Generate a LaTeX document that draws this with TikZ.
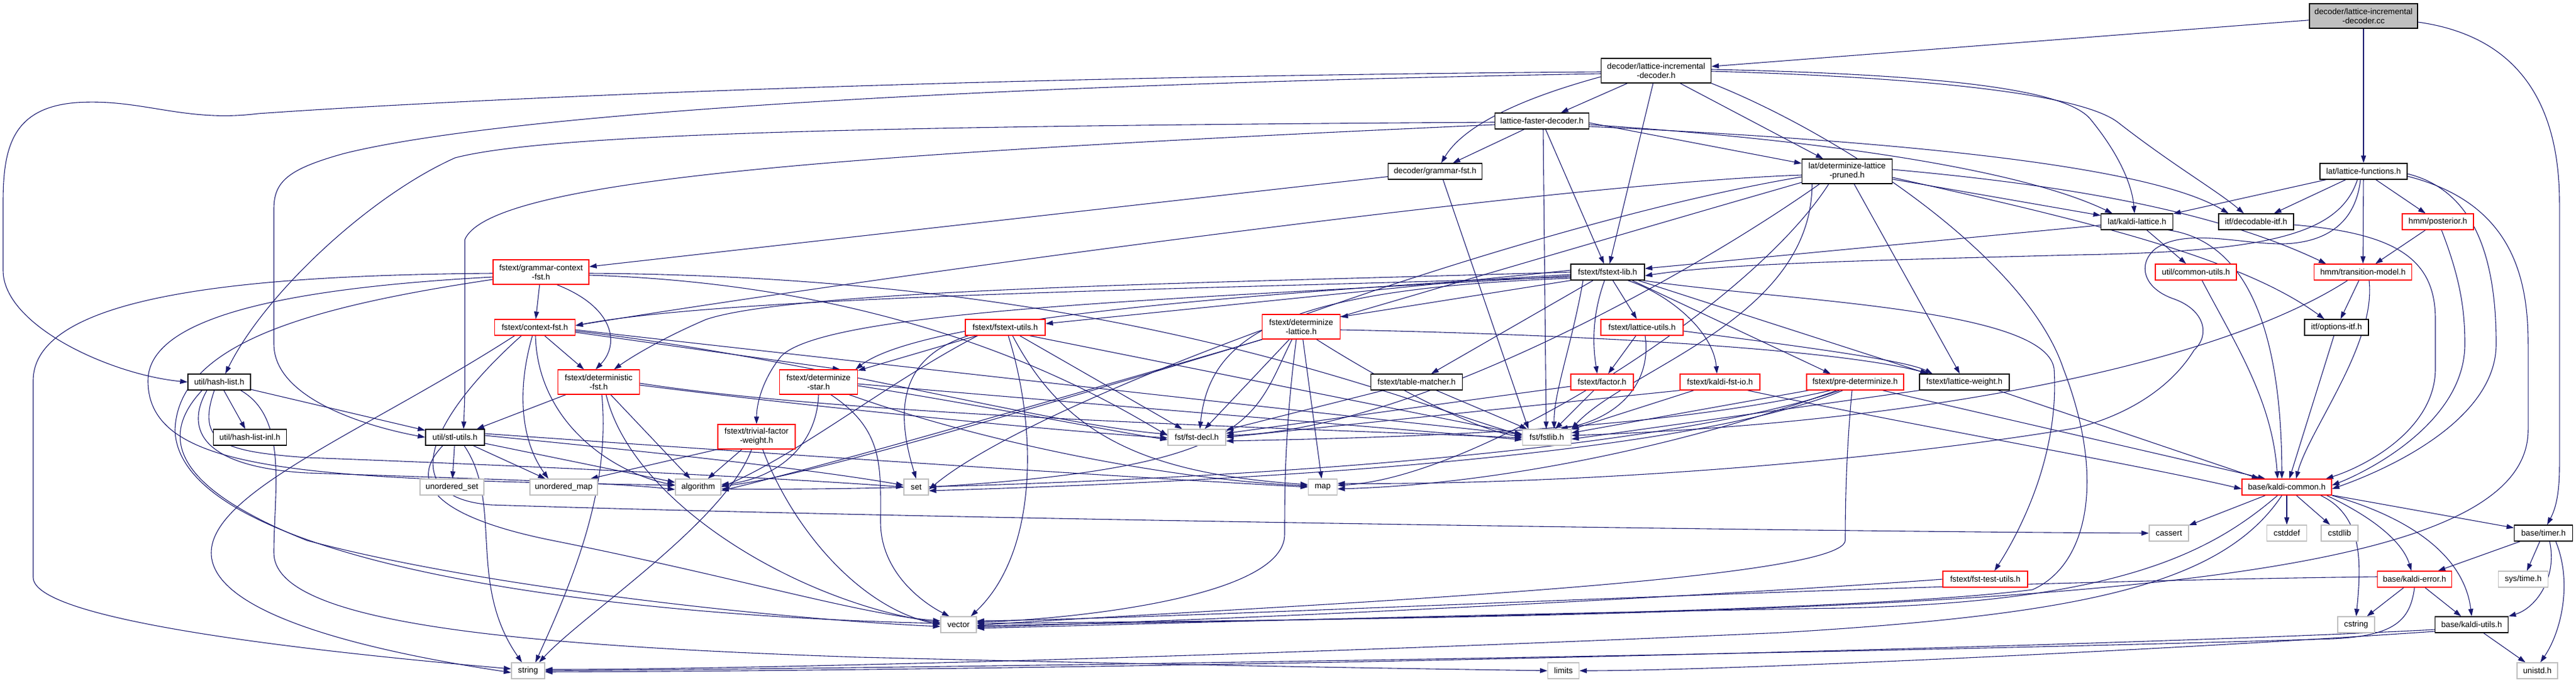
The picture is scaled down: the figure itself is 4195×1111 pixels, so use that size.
\documentclass[tikz,border=0pt]{standalone}
\usepackage{fontspec}
\setmainfont{Liberation Sans}
\usetikzlibrary{arrows.meta}
\pgfdeclarelayer{bg}
\pgfsetlayers{bg,main}
\definecolor{edgec}{RGB}{25,25,112}
\definecolor{grayb}{RGB}{191,191,191}
\tikzset{
 box/.style={draw=black,line width=1.3pt,fill=white,inner sep=0pt,align=center,font=\fontsize{13.3}{15}\selectfont},
 redbox/.style={box,draw=red},
 sysbox/.style={box,draw=grayb},
 rootbox/.style={box,fill=grayb},
 e/.style={draw=edgec,line width=1.1pt,-{Triangle[length=12pt,width=8pt]}},
}
\newcommand\nd[7]{\node[#1,minimum width=#5pt,minimum height=#6pt] (#2) at (#3,#4) {#7};}
\begin{document}
\begin{tikzpicture}[x=1pt,y=-1pt]
\useasboundingbox (0,0) rectangle (4195,1111);
\nd{rootbox}{cc}{3849}{26}{176}{40}{decoder/lattice-incremental\\-decoder.cc}
\nd{box}{lidh}{2697}{115}{179}{40}{decoder/lattice-incremental\\-decoder.h}
\nd{box}{lfd}{2511}{197}{153}{26}{lattice-faster-decoder.h}
\nd{box}{gfst}{2337}{279}{153}{26}{decoder/grammar-fst.h}
\nd{box}{dlp}{3008}{279}{147}{40}{lat/determinize-lattice\\-pruned.h}
\nd{box}{lfun}{3849}{279}{142}{26}{lat/lattice-functions.h}
\nd{box}{klat}{3480}{361}{117}{26}{lat/kaldi-lattice.h}
\nd{box}{ditf}{3674}{361}{122}{26}{itf/decodable-itf.h}
\nd{redbox}{post}{3970}{361}{116}{26}{hmm/posterior.h}
\nd{redbox}{gcf}{881}{443}{156}{40}{fstext/grammar-context\\-fst.h}
\nd{box}{flib}{2618}{443}{120}{26}{fstext/fstext-lib.h}
\nd{redbox}{cu}{3576}{443}{132}{26}{util/common-utils.h}
\nd{redbox}{tm}{3848}{443}{159}{26}{hmm/transition-model.h}
\nd{redbox}{cfst}{871}{533}{131}{26}{fstext/context-fst.h}
\nd{redbox}{futl}{1637}{533}{130}{26}{fstext/fstext-utils.h}
\nd{redbox}{dlat}{2119}{532}{127}{40}{fstext/determinize\\-lattice.h}
\nd{redbox}{lutl}{2674}{533}{134}{26}{fstext/lattice-utils.h}
\nd{box}{opt}{3805}{533}{104}{26}{itf/options-itf.h}
\nd{box}{hl}{357}{622}{102}{26}{util/hash-list.h}
\nd{redbox}{dfst}{975}{622}{133}{40}{fstext/deterministic\\-fst.h}
\nd{redbox}{dstar}{1333}{622}{127}{40}{fstext/determinize\\-star.h}
\nd{box}{tmat}{2307}{622}{149}{26}{fstext/table-matcher.h}
\nd{redbox}{fac}{2609}{622}{102}{26}{fstext/factor.h}
\nd{redbox}{kfio}{2801}{622}{130}{26}{fstext/kaldi-fst-io.h}
\nd{redbox}{pdet}{3021}{622}{158}{26}{fstext/pre-determinize.h}
\nd{box}{lw}{3199}{622}{146}{26}{fstext/lattice-weight.h}
\nd{box}{hli}{407}{712}{119}{26}{util/hash-list-inl.h}
\nd{box}{stl}{741}{712}{96}{26}{util/stl-utils.h}
\nd{redbox}{tfw}{1232}{711}{126}{40}{fstext/trivial-factor\\-weight.h}
\nd{sysbox}{decl}{1949}{712}{94}{26}{fst/fst-decl.h}
\nd{sysbox}{fstlib}{2519}{712}{79}{26}{fst/fstlib.h}
\nd{sysbox}{uset}{736}{793}{104}{26}{unordered\_set}
\nd{sysbox}{umap}{918}{793}{110}{26}{unordered\_map}
\nd{sysbox}{algo}{1137}{793}{74}{26}{algorithm}
\nd{sysbox}{set}{1492}{793}{40}{26}{set}
\nd{sysbox}{map}{2154}{793}{47}{26}{map}
\nd{redbox}{kc}{3724}{793}{146}{26}{base/kaldi-common.h}
\nd{sysbox}{cassert}{3532}{868}{64}{26}{cassert}
\nd{sysbox}{cstddef}{3724}{868}{65}{26}{cstddef}
\nd{sysbox}{cstdlib}{3810}{868}{60}{26}{cstdlib}
\nd{box}{timer}{4142}{868}{95}{26}{base/timer.h}
\nd{redbox}{ftu}{3233}{943}{138}{26}{fstext/fst-test-utils.h}
\nd{redbox}{kerr}{3932}{943}{121}{26}{base/kaldi-error.h}
\nd{sysbox}{systime}{4109}{943}{81}{26}{sys/time.h}
\nd{sysbox}{vector}{1561}{1017}{58}{26}{vector}
\nd{sysbox}{cstring}{3837}{1017}{60}{26}{cstring}
\nd{box}{kutil}{4025}{1017}{119}{26}{base/kaldi-utils.h}
\nd{sysbox}{string}{860}{1092}{54}{26}{string}
\nd{sysbox}{limits}{2546}{1092}{51}{26}{limits}
\nd{sysbox}{unistd}{4132}{1092}{66}{26}{unistd.h}
\begin{pgfonlayer}{bg}
% cc
\draw[e] (cc) -- (lidh);
\draw[e] (cc) -- (lfun);
\draw[e] ([yshift=-10]cc.east) .. controls (4110,60) and (4168,180) .. (4168,330) -- (4168,760) .. controls (4168,815) and (4158,835) .. ([xshift=6]timer.north);
% lidh
\draw[e] (lidh) -- (lfd);
\draw[e] (lidh) -- (flib);
\draw[e] (lidh) -- (dlp);
\draw[e] ([yshift=2]lidh.east) .. controls (3200,122) and (3370,150) .. (3405,195) .. controls (3450,250) and (3472,300) .. ([xshift=-4]klat.north);
\draw[e] ([yshift=-1]lidh.east) .. controls (3200,128) and (3400,160) .. (3450,200) .. controls (3540,270) and (3610,310) .. ([xshift=-20]ditf.north);
\draw[e] ([yshift=-2]lidh.west) .. controls (1500,125) and (700,165) .. (420,185) .. controls (300,200) and (230,160) .. (125,167) .. controls (20,175) and (5,240) .. (5,330) -- (5,440) .. controls (5,530) and (180,610) .. (hl.west);
\draw[e] ([yshift=-5]lidh.west) .. controls (1500,140) and (800,190) .. (560,250) .. controls (470,275) and (446,295) .. (446,340) -- (446,560) .. controls (446,650) and (600,695) .. (stl.west);
\draw[e] ([yshift=-10]lidh.west) .. controls (2460,165) and (2380,210) .. ([xshift=10]gfst.north);
\draw[e] (lidh.south east) .. controls (3000,220) and (3300,420) .. (3360,600) .. controls (3430,780) and (3400,920) .. (3310,960) .. controls (3000,1000) and (2000,1010) .. ([yshift=-2]vector.east);
% lfd
\draw[e] (lfd) -- (gfst);
\draw[e] (lfd) -- (flib);
\draw[e] ([xshift=2]lfd.south) -- ([xshift=-1]fstlib.north);
\draw[e] ([yshift=-2]lfd.west) .. controls (1500,205) and (900,215) .. (741,257) .. controls (600,320) and (430,480) .. ([xshift=10]hl.north);
\draw[e] ([yshift=-6]lfd.west) .. controls (1400,250) and (800,290) .. (757,390) -- (757,640) -- ([xshift=14]stl.north);
\draw[e] ([yshift=-3]lfd.east) -- ([yshift=13]dlp.west);
\draw[e] ([yshift=-6]lfd.east) .. controls (3000,230) and (3300,280) .. ([xshift=-40]klat.north);
\draw[e] ([yshift=-9]lfd.east) .. controls (3100,230) and (3500,270) .. ([xshift=-45]ditf.north);
% gfst
\draw[e] (gfst) -- (gcf);
\draw[e] ([xshift=13]gfst.south) -- ([xshift=-30]fstlib.north);
% dlp
\draw[e] (dlp) -- (klat);
\draw[e] (dlp) -- (lw);
\draw[e] ([yshift=3]dlp.east) .. controls (3350,300) and (3600,340) .. ([xshift=-60]tm.north);
\draw[e] ([yshift=-10]dlp.east) .. controls (3400,360) and (3650,420) .. ([xshift=-20]opt.north);
\draw[e] ([xshift=-57]dlp.south) .. controls (2950,520) and (2650,600) .. (fstlib.north east);
\draw[e] ([yshift=-6]dlp.west) .. controls (2500,300) and (1300,470) .. ([yshift=3]cfst.east);
\draw[e] ([yshift=-9]dlp.west) .. controls (2500,360) and (1700,640) .. ([yshift=-4]set.east);
\draw[e] ([yshift=-18]dlp.west) .. controls (2400,450) and (1500,720) .. ([yshift=-6]algo.east);
\draw[e] ([xshift=-30]dlp.south) .. controls (2850,500) and (2400,780) .. ([yshift=3]map.east);
\draw[e] ([xshift=-45]dlp.south) .. controls (2750,450) and (2300,700) .. ([yshift=3]decl.east);
% lfun
\draw[e] (lfun) -- (klat);
\draw[e] (lfun) -- (ditf);
\draw[e] (lfun) -- (post);
\draw[e] (lfun) -- (tm);
\draw[e] ([xshift=-10]lfun.south) .. controls (3810,380) and (3700,410) .. (3380,415) .. controls (3000,425) and (2800,430) .. ([yshift=-6]flib.east);
\draw[e] ([xshift=-5]lfun.south) .. controls (3835,370) and (3780,395) .. (3719,397) .. controls (3650,398) and (3560,370) .. (3510,405) .. controls (3480,430) and (3490,470) .. (3541,487) .. controls (3590,505) and (3600,545) .. (3573,570) .. controls (3530,640) and (3450,680) .. (3380,697) .. controls (3000,760) and (2500,790) .. ([yshift=6]map.east);
\draw[e] ([yshift=-4]lfun.east) .. controls (4030,310) and (4065,420) .. (4065,560) .. controls (4065,680) and (3900,760) .. ([yshift=-3]kc.east);
\draw[e] ([yshift=-8]lfun.east) .. controls (4090,330) and (4117,450) .. (4117,560) -- (4117,700) .. controls (4117,960) and (3300,1000) .. ([yshift=2]vector.east);
% klat
\draw[e] (klat) -- (flib);
\draw[e] (klat) -- (cu);
\draw[e] ([xshift=-8]klat.south east) .. controls (3640,390) and (3715,500) .. ([xshift=-8]kc.north);
% ditf
\draw[e] ([yshift=-5]ditf.east) .. controls (3900,380) and (3966,420) .. (3966,520) -- (3966,600) .. controls (3966,700) and (3850,760) .. ([xshift=-10]kc.north east);
% post
\draw[e] (post) -- (tm);
\draw[e] ([xshift=6]post.south) .. controls (4005,450) and (4014,500) .. (4014,560) .. controls (4014,690) and (3850,770) .. ([yshift=3]kc.east);
% cu, tm, opt
\draw[e] ([xshift=10]cu.south) .. controls (3640,560) and (3700,650) .. ([xshift=-15]kc.north);
\draw[e] (tm) -- (opt);
\draw[e] ([xshift=10]tm.south) .. controls (3870,560) and (3760,700) .. ([xshift=15]kc.north);
\draw[e] ([xshift=-25]tm.south) .. controls (3600,600) and (3100,690) .. ([yshift=3]fstlib.east);
\draw[e] (opt) -- (kc);
% gcf
\draw[e] (gcf) -- (cfst);
\draw[e] ([xshift=26]gcf.south) .. controls (1000,500) and (1010,560) .. ([xshift=-5]dfst.north);
\draw[e] ([yshift=-2]gcf.east) .. controls (1800,450) and (2250,640) .. ([yshift=3]fstlib.west);
\draw[e] ([yshift=-5]gcf.east) .. controls (1500,465) and (1800,650) .. ([yshift=3]decl.west);
\draw[e] ([yshift=-2]gcf.west) .. controls (400,448) and (54,480) .. (54,620) -- (54,940) .. controls (54,1010) and (500,1060) .. ([yshift=3]string.west);
\draw[e] ([yshift=-8]gcf.west) .. controls (450,470) and (241,520) .. (241,620) .. controls (241,770) and (500,780) .. ([yshift=3]algo.west);
\draw[e] ([yshift=-12]gcf.west) .. controls (500,500) and (290,560) .. (285,700) .. controls (290,900) and (900,1000) .. ([yshift=2]vector.west);
% cfst
\draw[e] (cfst) -- (dfst);
\draw[e] ([yshift=-8]cfst.east) -- ([xshift=35]dstar.north);
\draw[e] ([xshift=-4]cfst.south) .. controls (840,640) and (850,720) .. ([xshift=-25]umap.north);
\draw[e] ([xshift=1]cfst.south) .. controls (876,690) and (1000,770) .. ([yshift=3]algo.west);
\draw[e] ([xshift=-33]cfst.south) .. controls (600,700) and (344,800) .. (344,900) .. controls (344,1000) and (600,1060) .. ([yshift=-3]string.west);
\draw[e] ([xshift=-22]cfst.south) .. controls (700,680) and (640,810) .. (800,822) .. controls (1500,845) and (3000,866) .. (cassert.west);
\draw[e] ([yshift=-4]cfst.east) .. controls (1500,600) and (2300,690) .. ([yshift=5]fstlib.west);
\draw[e] ([yshift=-6]cfst.east) .. controls (1300,580) and (1700,690) .. ([yshift=5]decl.west);
% flib
\draw[e] ([xshift=-40]flib.south) .. controls (2560,560) and (2530,640) .. ([xshift=12]fstlib.north);
\draw[e] ([yshift=-8]flib.west) .. controls (2000,470) and (1200,480) .. ([yshift=3]cfst.east);
\draw[e] (flib.west) .. controls (2000,460) and (1300,470) .. (1150,520) .. controls (1080,550) and (1030,580) .. ([xshift=25]dfst.north);
\draw[e] ([yshift=-4]flib.west) .. controls (2000,480) and (1500,520) .. ([xshift=-4]dstar.north east);
\draw[e] ([yshift=-6]flib.west) .. controls (2000,485) and (1350,500) .. (1272,580) .. controls (1240,620) and (1232,660) .. (tfw.north);
\draw[e] ([yshift=3]flib.west) -- ([yshift=6]futl.east);
\draw[e] (flib.south west) -- ([yshift=16]dlat.east);
\draw[e] (flib) -- (tmat);
\draw[e] ([xshift=-5]flib.south) .. controls (2590,520) and (2595,570) .. ([xshift=-8]fac.north);
\draw[e] (flib) -- (lutl);
\draw[e] ([xshift=33]flib.south) .. controls (2720,480) and (2790,540) .. ([xshift=-5]kfio.north);
\draw[e] ([xshift=40]flib.south) -- ([xshift=-40]pdet.north);
\draw[e] ([xshift=50]flib.south) -- ([xshift=-60]lw.north);
\draw[e] ([xshift=58]flib.south) .. controls (2900,490) and (3330,500) .. (3345,600) .. controls (3355,750) and (3280,880) .. ([xshift=15]ftu.north);
\draw[e] ([yshift=-10]flib.west) .. controls (2100,470) and (1970,540) .. ([xshift=5]decl.north);
% hl
\draw[e] (hl) -- (hli);
\draw[e] (hl) -- (stl);
\draw[e] ([xshift=-20]hl.south) .. controls (300,700) and (330,760) .. (500,770) .. controls (800,780) and (1000,786) .. ([yshift=-4]algo.west);
\draw[e] ([xshift=-8]hl.south) .. controls (320,720) and (360,735) .. (500,745) .. controls (900,760) and (1300,780) .. (set.west);
\draw[e] ([xshift=-28]hl.south) .. controls (250,720) and (300,800) .. (500,880) .. controls (800,960) and (1300,1010) .. ([yshift=-3]vector.west);
\draw[e] ([xshift=35]hl.south) .. controls (470,680) and (446,800) .. (446,900) .. controls (446,1010) and (800,1050) .. (1400,1070) .. controls (2000,1085) and (2400,1090) .. (limits.west);
% dfst
\draw[e] (dfst) -- (stl);
\draw[e] (dfst) -- (algo);
\draw[e] ([xshift=5]dfst.south) .. controls (995,800) and (930,950) .. ([xshift=12]string.north);
\draw[e] ([xshift=12]dfst.south) .. controls (1030,820) and (1300,980) .. ([yshift=3]vector.west);
\draw[e] ([yshift=-2]dfst.east) .. controls (1400,680) and (2200,700) .. ([yshift=-1]fstlib.west);
\draw[e] ([yshift=-5]dfst.east) .. controls (1300,660) and (1700,700) .. ([yshift=-1]decl.west);
% dstar
\draw[e] (dstar.south) .. controls (1330,730) and (1260,780) .. ([yshift=4]algo.east);
\draw[e] ([xshift=20]dstar.south) .. controls (1440,700) and (1434,760) .. (1434,850) .. controls (1434,930) and (1500,980) .. ([xshift=-15]vector.north);
\draw[e] ([yshift=-3]dstar.east) .. controls (1800,660) and (2300,700) .. ([yshift=-4]fstlib.west);
\draw[e] ([yshift=-6]dstar.east) .. controls (1600,660) and (1800,700) .. ([yshift=-4]decl.west);
\draw[e] ([xshift=50]dstar.south) .. controls (1600,720) and (1900,780) .. ([yshift=2]map.west);
% tfw
\draw[e] (tfw.south west) -- ([xshift=-12]umap.north east);
\draw[e] (tfw) -- (algo);
\draw[e] ([xshift=-8]tfw.south) .. controls (1180,850) and (950,1000) .. ([xshift=18]string.north);
\draw[e] ([xshift=10]tfw.south) .. controls (1290,860) and (1400,990) .. (vector.west);
% stl
\draw[e] (stl) -- (uset);
\draw[e] (stl) -- (umap);
\draw[e] (stl) -- (algo);
\draw[e] ([yshift=3]stl.east) .. controls (1000,730) and (1300,760) .. ([yshift=3]set.west);
\draw[e] ([yshift=6]stl.east) .. controls (1200,735) and (1800,775) .. (map.west);
\draw[e] ([xshift=15]stl.south) .. controls (820,820) and (760,950) .. ([xshift=-10]string.north);
\draw[e] ([xshift=-20]stl.south) .. controls (650,800) and (750,850) .. (900,880) .. controls (1200,940) and (1400,1000) .. ([yshift=6]vector.west);
% futl
\draw[e] (futl) -- (dstar);
\draw[e] ([xshift=-60]futl.south) .. controls (1470,580) and (1455,660) .. (set.north);
\draw[e] ([xshift=-45]futl.south) .. controls (1450,620) and (1300,740) .. (algo.east);
\draw[e] ([xshift=5]futl.south) .. controls (1690,700) and (1690,900) .. ([xshift=20]vector.north);
\draw[e] ([xshift=12]futl.south) .. controls (1730,700) and (1850,770) .. ([yshift=4]map.west);
\draw[e] (futl) -- (decl);
\draw[e] ([xshift=40]futl.south) -- ([yshift=5]fstlib.west);
% dlat
\draw[e] (dlat) -- (decl);
\draw[e] ([xshift=-15]dlat.south) .. controls (2040,680) and (2050,760) .. (set.east);
\draw[e] ([xshift=-8]dlat.south) .. controls (2092,700) and (2092,800) .. (2092,870) .. controls (2092,980) and (1700,1010) .. ([yshift=4]vector.east);
\draw[e] (dlat) -- (map);
\draw[e] (dlat.south west) .. controls (1700,660) and (1300,780) .. ([yshift=2]algo.east);
\draw[e] ([xshift=25]dlat.south) .. controls (2250,620) and (2400,700) .. ([yshift=1]fstlib.west);
\draw[e] ([yshift=-5]dlat.east) .. controls (2600,545) and (3000,570) .. ([xshift=-58]lw.north);
% tmat fac lutl kfio
\draw[e] (tmat) -- (decl);
\draw[e] (tmat) -- (fstlib);
\draw[e] (fac) -- (decl);
\draw[e] (fac) -- (fstlib);
\draw[e] (lutl) -- (fac);
\draw[e] ([xshift=5]lutl.south) .. controls (2690,620) and (2640,680) .. ([xshift=22]fstlib.north);
\draw[e] ([yshift=-6]lutl.east) .. controls (2900,560) and (3100,585) .. ([xshift=-52]lw.north);
\draw[e] (kfio.south west) -- (decl.east);
\draw[e] (kfio) -- (fstlib);
\draw[e] ([xshift=45]kfio.south) .. controls (3100,690) and (3500,760) .. ([yshift=-3]kc.west);
% pdet
\draw[e] (pdet) -- (fstlib);
\draw[e] ([xshift=-40]pdet.south) .. controls (2700,700) and (2300,712) .. ([yshift=-6]decl.east);
\draw[e] ([xshift=-30]pdet.south) .. controls (2700,740) and (2400,790) .. ([yshift=-3]map.east);
\draw[e] ([xshift=-20]pdet.south) .. controls (2700,760) and (1800,790) .. ([yshift=-6]set.east);
\draw[e] ([xshift=-25]pdet.south) .. controls (2600,770) and (1500,800) .. ([yshift=-3]algo.east);
\draw[e] ([xshift=-5]pdet.south) .. controls (3005,750) and (3005,850) .. (3005,880) .. controls (3000,950) and (2000,990) .. ([yshift=-1]vector.east);
\draw[e] ([xshift=45]pdet.south) -- ([xshift=-35]kc.north);
% lw
\draw[e] (lw.south west) -- ([yshift=-3]fstlib.east);
\draw[e] ([xshift=55]lw.south) -- ([xshift=-45]kc.north);
% ftu
\draw[e] (ftu.west) .. controls (2800,970) and (2000,1010) .. ([yshift=-4]vector.east);
% kc
\draw[e] (kc) -- (cassert);
\draw[e] (kc) -- (cstddef);
\draw[e] (kc) -- (cstdlib);
\draw[e] ([xshift=55]kc.south) .. controls (3850,840) and (3845,920) .. (cstring.north);
\draw[e] ([xshift=65]kc.south) .. controls (3880,850) and (3915,890) .. ([xshift=-5]kerr.north);
\draw[e] (kc.south east) .. controls (3950,850) and (4015,920) .. (kutil.north);
\draw[e] (kc) -- (timer);
\draw[e] ([xshift=-15]kc.south) .. controls (3600,900) and (3450,980) .. (3000,990) .. controls (2400,1000) and (1900,1015) .. ([yshift=-6]vector.east);
\draw[e] ([xshift=-8]kc.south) .. controls (3620,950) and (3400,1000) .. (2900,1030) .. controls (2000,1070) and (1200,1090) .. ([yshift=2]string.east);
% timer
\draw[e] (timer) -- (kerr);
\draw[e] (timer) -- (systime);
\draw[e] ([xshift=10]timer.south) .. controls (4165,940) and (4130,990) .. (kutil.north east);
\draw[e] ([xshift=20]timer.south) .. controls (4190,950) and (4170,1030) .. ([xshift=5]unistd.north);
% kerr
\draw[e] ([yshift=4]kerr.west) .. controls (3000,950) and (2000,1005) .. ([yshift=6]vector.east);
\draw[e] (kerr) -- (cstring);
\draw[e] (kerr) -- (kutil);
\draw[e] (kerr.south) .. controls (3925,1010) and (3900,1035) .. (3800,1040) .. controls (3000,1065) and (1500,1088) .. (string.east);
% kutil
\draw[e] ([yshift=-8]kutil.west) .. controls (3500,1050) and (2000,1090) .. ([yshift=-2]string.east);
\draw[e] ([yshift=-11]kutil.west) .. controls (3500,1060) and (2800,1092) .. (limits.east);
\draw[e] (kutil) -- (unistd);
\end{pgfonlayer}
\end{tikzpicture}
\end{document}
